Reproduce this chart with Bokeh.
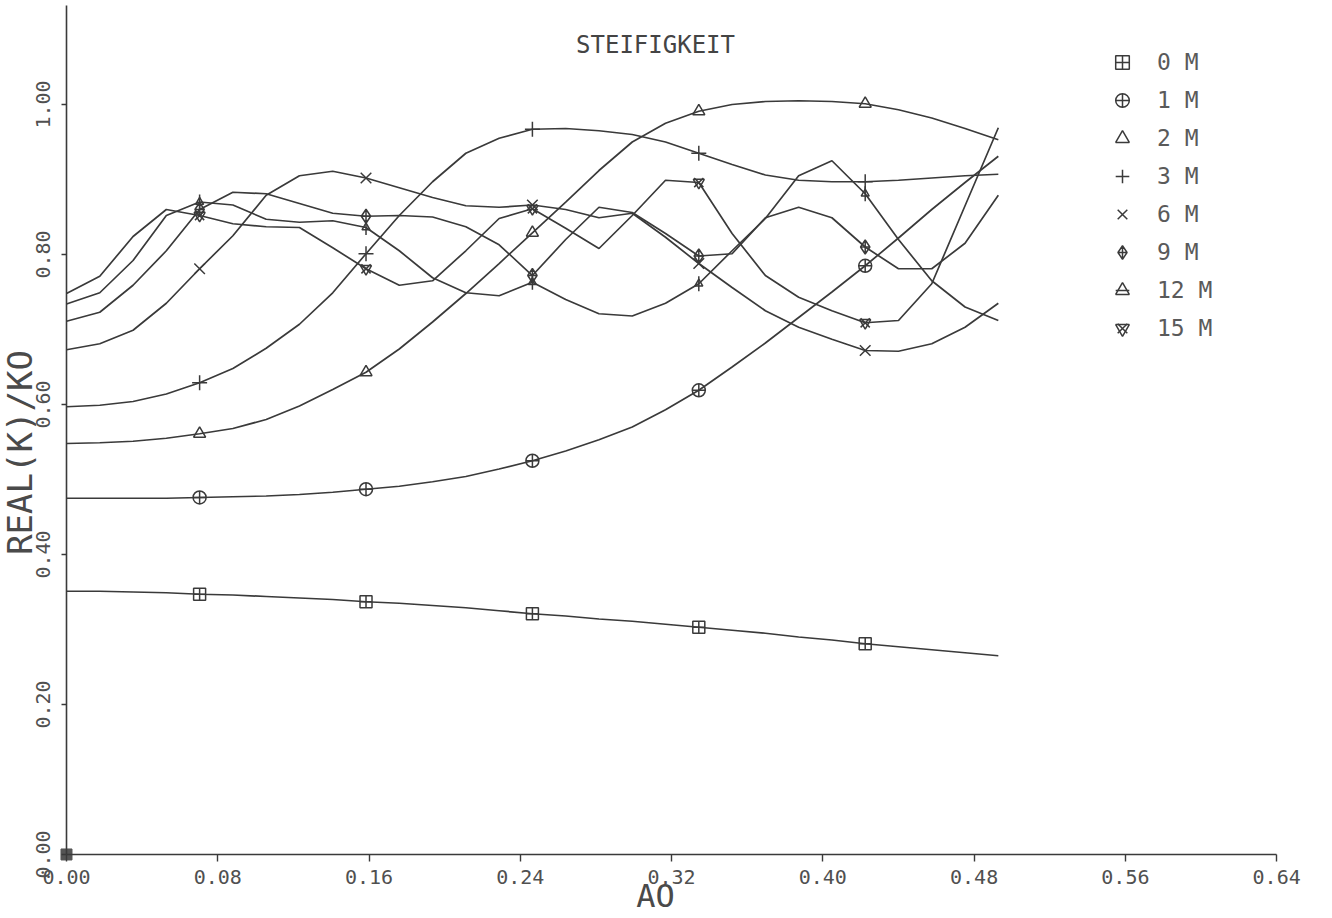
import math
from bokeh.plotting import figure
from bokeh.models import Range1d, FixedTicker, PrintfTickFormatter, Label, Legend, LegendItem
from bokeh.embed import file_html
from bokeh.resources import INLINE

# ---------------- data ----------------
a0 = [0.0000, 0.0176, 0.0352, 0.0528, 0.0704, 0.0880, 0.1056, 0.1232, 0.1408, 0.1584,
      0.1760, 0.1936, 0.2112, 0.2288, 0.2464, 0.2640, 0.2816, 0.2992, 0.3168, 0.3344,
      0.3520, 0.3696, 0.3872, 0.4048, 0.4224, 0.4400, 0.4576, 0.4752, 0.4928]

k_0m = [0.351, 0.351, 0.350, 0.349, 0.347, 0.346, 0.344, 0.342, 0.340, 0.337,
        0.335, 0.332, 0.329, 0.325, 0.321, 0.318, 0.314, 0.311, 0.307, 0.303,
        0.299, 0.295, 0.290, 0.286, 0.281, 0.277, 0.273, 0.269, 0.265]
k_1m = [0.475, 0.475, 0.475, 0.475, 0.476, 0.477, 0.478, 0.480, 0.483, 0.487,
        0.491, 0.497, 0.504, 0.514, 0.525, 0.538, 0.553, 0.570, 0.593, 0.619,
        0.650, 0.682, 0.716, 0.750, 0.785, 0.822, 0.860, 0.896, 0.931]
k_2m = [0.548, 0.549, 0.551, 0.555, 0.561, 0.568, 0.580, 0.598, 0.620, 0.643,
        0.674, 0.710, 0.748, 0.788, 0.829, 0.870, 0.912, 0.950, 0.975, 0.991,
        1.000, 1.004, 1.005, 1.004, 1.001, 0.993, 0.982, 0.968, 0.953]
k_3m = [0.597, 0.599, 0.604, 0.614, 0.629, 0.648, 0.675, 0.707, 0.749, 0.801,
        0.852, 0.897, 0.935, 0.955, 0.967, 0.968, 0.965, 0.960, 0.950, 0.935,
        0.920, 0.906, 0.899, 0.897, 0.897, 0.899, 0.902, 0.905, 0.907]
k_6m = [0.673, 0.681, 0.699, 0.735, 0.781, 0.825, 0.879, 0.905, 0.911, 0.902,
        0.889, 0.876, 0.865, 0.863, 0.866, 0.860, 0.849, 0.855, 0.823, 0.788,
        0.756, 0.725, 0.703, 0.687, 0.672, 0.671, 0.681, 0.703, 0.735]
k_9m = [0.711, 0.723, 0.759, 0.805, 0.860, 0.883, 0.881, 0.868, 0.855, 0.851,
        0.852, 0.850, 0.837, 0.813, 0.772, 0.820, 0.863, 0.856, 0.828, 0.798,
        0.801, 0.849, 0.863, 0.849, 0.810, 0.781, 0.781, 0.815, 0.879]
k_12m = [0.734, 0.749, 0.792, 0.852, 0.870, 0.866, 0.847, 0.843, 0.845, 0.836,
         0.805, 0.769, 0.749, 0.745, 0.763, 0.740, 0.721, 0.718, 0.735, 0.761,
         0.805, 0.848, 0.905, 0.925, 0.881, 0.820, 0.765, 0.730, 0.712]
k_15m = [0.748, 0.771, 0.824, 0.860, 0.852, 0.841, 0.837, 0.836, 0.809, 0.781,
         0.759, 0.765, 0.805, 0.848, 0.861, 0.835, 0.808, 0.852, 0.899, 0.896,
         0.828, 0.772, 0.743, 0.725, 0.709, 0.712, 0.761, 0.865, 0.969]

series_labels = ["0 M", "1 M", "2 M", "3 M", "6 M", "9 M", "12 M", "15 M"]
series_values = [k_0m, k_1m, k_2m, k_3m, k_6m, k_9m, k_12m, k_15m]
x_ticks = [0.00, 0.08, 0.16, 0.24, 0.32, 0.40, 0.48, 0.56, 0.64]
y_ticks = [0.00, 0.20, 0.40, 0.60, 0.80, 1.00]

# marker styles (one or two overlaid bokeh markers per series)
marker_styles = [
    [("square_cross", 12)],
    [("circle_cross", 13)],
    [("triangle", 12)],
    [("cross", 15)],
    [("x", 15)],
    [("diamond_cross", 14)],
    [("triangle", 8), ("dash", 15, math.pi / 2)],
    [("inverted_triangle", 11), ("x", 13)],
]

INK = "#3a3a3a"
TXT = "#505050"
MONO = "DejaVu Sans Mono"

# the frame fills the whole canvas; the axes sit at x=0 / y=0 inside it
p = figure(width=1324, height=916,
           x_range=Range1d(-0.0349, 0.6653), y_range=Range1d(-0.0827, 1.1387),
           output_backend="svg", toolbar_location=None, min_border=0)
p.outline_line_color = None
p.grid.visible = False
p.background_fill_color = "white"
p.border_fill_color = "white"

p.xaxis.fixed_location = 0
p.yaxis.fixed_location = 0
p.xaxis.bounds = (0, 0.64)
p.yaxis.bounds = (0, 1.132)
p.xaxis.ticker = FixedTicker(ticks=x_ticks)
p.yaxis.ticker = FixedTicker(ticks=y_ticks)
p.xaxis.formatter = PrintfTickFormatter(format="%.2f")
p.yaxis.formatter = PrintfTickFormatter(format="%.2f")
for ax in (p.xaxis, p.yaxis):
    ax.axis_line_color = INK
    ax.axis_line_width = 1.6
    ax.major_tick_line_color = INK
    ax.major_tick_line_width = 1.4
    ax.major_tick_in = 0
    ax.minor_tick_line_color = None
    ax.major_label_text_font = MONO
    ax.major_label_text_font_size = "20px"
    ax.major_label_text_color = TXT
p.xaxis.major_tick_out = 7
p.yaxis.major_tick_out = 5
p.xaxis.major_label_standoff = 9
p.yaxis.major_label_standoff = 11
p.yaxis.major_label_orientation = "vertical"

# curves and markers
legend_items = []
for label, vals, styles in zip(series_labels, series_values, marker_styles):
    p.line(a0, vals, line_color=INK, line_width=1.7)
    mx = a0[4::5]
    my = vals[4::5]
    rends = []
    for st in styles:
        kw = dict(marker=st[0], size=st[1], line_color=INK, line_width=1.5,
                  fill_alpha=0)
        if len(st) > 2:
            kw["angle"] = st[2]
        rends.append(p.scatter(mx, my, **kw))
    legend_items.append(LegendItem(label=label, renderers=rends))

# pen-start mark at the origin
p.scatter([x_ticks[0]], [y_ticks[0]], marker="square", size=11,
          fill_color="#555555", line_color="#555555")

legend = Legend(items=legend_items, location=(1105, 571),
                orientation="vertical",
                glyph_width=34, glyph_height=34, label_height=34,
                spacing=4, label_standoff=18, padding=0, margin=0,
                label_text_font=MONO, label_text_font_size="23px",
                label_text_color="#5a5a5a",
                background_fill_alpha=0, border_line_alpha=0)
p.add_layout(legend)

# texts
p.add_layout(Label(x=0.3115, y=1.0787, text="STEIFIGKEIT", text_font=MONO,
                   text_font_size="24px", text_color="#444444",
                   text_align="center", text_baseline="middle"))
p.add_layout(Label(x=0.3115, y=-0.0547, text="AO", text_font=MONO,
                   text_font_size="32px", text_color="#4a4a4a",
                   text_align="center", text_baseline="middle"))
p.add_layout(Label(x=-0.0245, y=0.536, text="REAL(K)/KO", text_font=MONO,
                   text_font_size="34px", text_color="#4a4a4a", angle=math.pi / 2,
                   text_align="center", text_baseline="middle"))

open("out.html", "w").write(file_html(p, INLINE))
